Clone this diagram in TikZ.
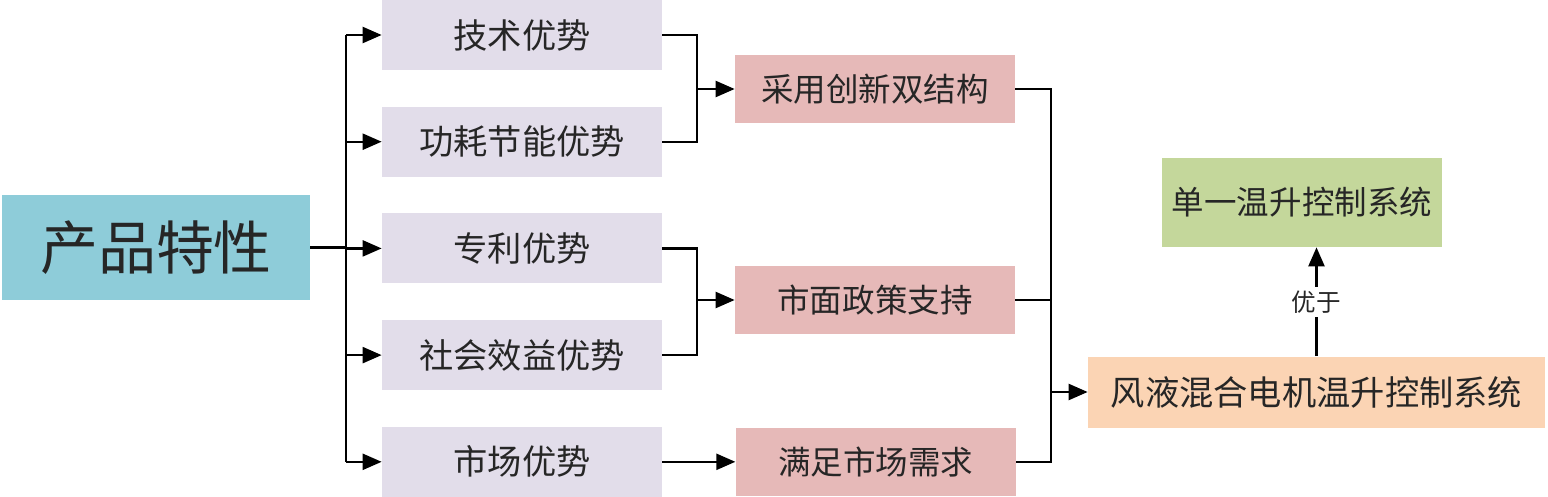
\documentclass[tikz,border=0pt]{standalone}
\usepackage{fontspec}
\setmainfont{Noto Sans CJK SC}
\usepackage{tikz}
\usetikzlibrary{positioning,arrows.meta}
\definecolor{prodblue}{HTML}{8ECCD9}
\definecolor{advgray}{HTML}{E2DDEA}
\definecolor{respink}{HTML}{E6B9B8}
\definecolor{syspeach}{HTML}{FBD4B4}
\definecolor{sysgreen}{HTML}{C4D79B}
\tikzset{
  block/.style = {rectangle, inner sep=0pt, text=black!85, align=center},
  prod/.style = {block, fill=prodblue, minimum width=6.16cm, minimum height=2.1cm,
                 font=\fontsize{33pt}{38pt}\selectfont},
  adv/.style = {block, fill=advgray, minimum width=5.6cm, minimum height=1.4cm,
                font=\fontsize{19.5pt}{23pt}\selectfont},
  res/.style = {block, fill=respink, minimum width=5.6cm, minimum height=1.36cm,
                font=\fontsize{18.5pt}{22pt}\selectfont},
  arrow/.style = {line width=1.3pt, -{Triangle[length=3.8mm,width=3.2mm]}},
  link/.style = {line width=1.3pt}
}

\begin{document}
\begin{tikzpicture}[node distance=0.72cm]
\useasboundingbox (0,0) rectangle (30.96,9.92);

\node (chanpin) [prod] at (3.12,4.97) {产品特性};

\node (jishu)    [adv] at (10.44,9.22)      {技术优势};
\node (gonghao)  [adv, below=of jishu]      {功耗节能优势};
\node (zhuanli)  [adv, below=of gonghao]    {专利优势};
\node (shehui)   [adv, below=of zhuanli]    {社会效益优势};
\node (shichang) [adv, below=of shehui]     {市场优势};

\node (caiyong) [res] at (17.5,8.14)           {采用创新双结构};
\node (shimian) [res] at (17.5,3.92)           {市面政策支持};
\node (manzu)   [res, right=1.46cm of shichang] {满足市场需求};

\node (fengye) [block, fill=syspeach, minimum width=9.14cm, minimum height=1.42cm,
                font=\fontsize{19.5pt}{23pt}\selectfont] at (26.33,2.08) {风液混合电机温升控制系统};
\node (danyi)  [block, fill=sysgreen, minimum width=5.6cm, minimum height=1.78cm,
                font=\fontsize{18.5pt}{22pt}\selectfont] at (26.04,5.87) {单一温升控制系统};

\coordinate (trunk) at (6.92,0);
\coordinate (joinA) at (13.94,0);
\coordinate (joinB) at (21.02,0);

% product features to the advantages
\draw[link] (chanpin.east) -- (trunk |- chanpin);
\draw[link] (trunk |- jishu) -- (trunk |- shichang);
\foreach \n in {jishu,gonghao,zhuanli,shehui,shichang}
  \draw[arrow] (trunk |- \n) -- (\n.west);

% advantages to the results
\draw[link] (jishu.east) -- (joinA |- jishu) -- (joinA |- gonghao) -- (gonghao.east);
\draw[arrow] (joinA |- caiyong) -- (caiyong.west);
\draw[link] (zhuanli.east) -- (joinA |- zhuanli) -- (joinA |- shehui) -- (shehui.east);
\draw[arrow] (joinA |- shimian) -- (shimian.west);
\draw[arrow] (shichang) -- (manzu);

% results to the system
\draw[link] (caiyong.east) -- (joinB |- caiyong) -- (joinB |- manzu) -- (manzu.east);
\draw[link] (shimian.east) -- (joinB |- shimian);
\draw[arrow] (joinB |- fengye) -- (fengye.west);

\draw[arrow] (fengye.north) -- node[fill=white, inner sep=2pt, text=black!85,
  font=\fontsize{14pt}{16pt}\selectfont] {优于} (fengye.north |- danyi.south);

\end{tikzpicture}
\end{document}
